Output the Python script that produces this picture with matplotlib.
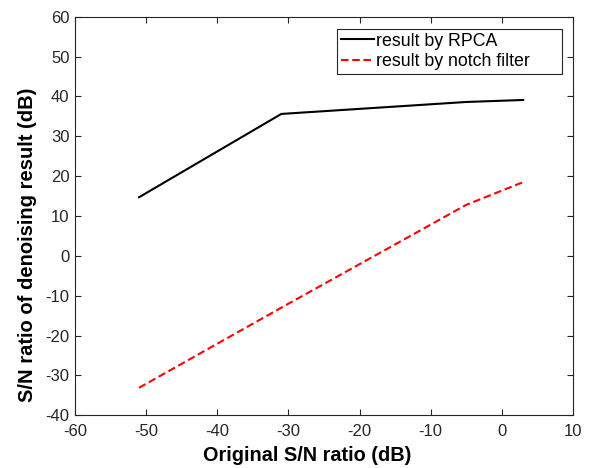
import matplotlib
matplotlib.use("Agg")
import matplotlib.pyplot as plt

plt.rcParams['font.family'] = ['Liberation Sans', 'DejaVu Sans']
plt.rcParams['axes.unicode_minus'] = False

# Input signal-to-noise ratios (dB)
snr_in = [-51, -31, -5, 3]
# Output SNR after each denoising method (dB)
snr_rpca = [14.7, 35.6, 38.6, 39.1]
snr_notch = [-33.1, -13.0, 12.8, 18.5]

x_ticks = [-60, -50, -40, -30, -20, -10, 0, 10]
y_ticks = [-40, -30, -20, -10, 0, 10, 20, 30, 40, 50, 60]

fig = plt.figure(figsize=(5.93, 4.68), dpi=100)
ax = fig.add_axes([0.1265, 0.1126, 0.8398, 0.8518])

ax.plot(snr_in, snr_rpca, color='black', lw=1.5, label='result by RPCA')
ax.plot(snr_in, snr_notch, color='red', lw=1.5, ls=(0, (3.6, 1.8)), label='result by notch filter')

ax.set_xlim(-60, 10)
ax.set_ylim(-40, 60)
ax.set_xticks(x_ticks)
ax.set_yticks(y_ticks)
ax.tick_params(direction='in', top=True, right=True, length=4.5, width=0.8,
               labelsize=12, colors='#262626')
ax.tick_params(axis='x', pad=6)
ax.tick_params(axis='y', pad=4)
for s in ax.spines.values():
    s.set_color('#262626')
    s.set_linewidth(0.8)

ax.set_xlabel('Original S/N ratio (dB)', fontsize=14.3, fontweight='bold', labelpad=5.5)
ax.set_ylabel('S/N ratio of denoising result (dB)', fontsize=14.5, fontweight='bold', labelpad=6)
ax.xaxis.label.set_x(0.466)
ax.yaxis.label.set_y(0.427)

leg = ax.legend(loc='upper left', bbox_to_anchor=(0.526, 0.969, 0.452, 0.0), mode='expand',
                fontsize=12.8, frameon=True, fancybox=False, edgecolor='#262626', framealpha=1,
                borderpad=0.2, labelspacing=0.22, handlelength=1.9, handletextpad=0.12,
                borderaxespad=0)
leg.get_frame().set_linewidth(0.8)

fig.savefig('out.png', dpi=100)
